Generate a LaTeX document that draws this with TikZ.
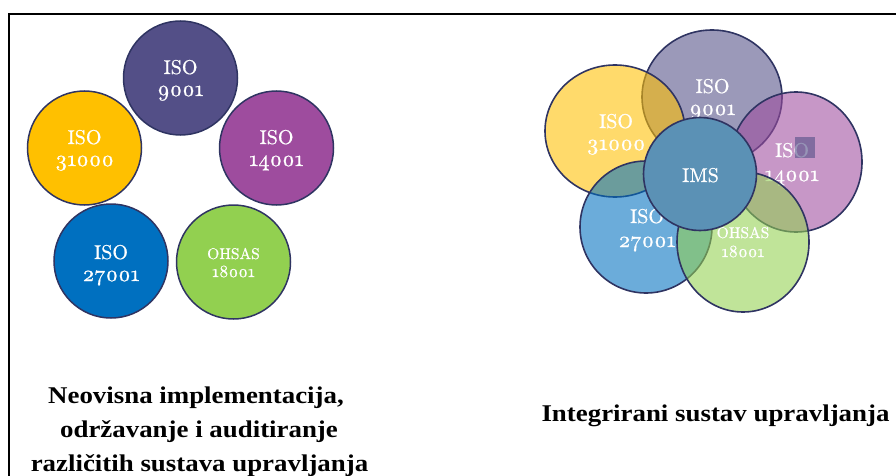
\documentclass[tikz,border=0pt]{standalone}
\usepackage{fontspec}
\usetikzlibrary{shapes.geometric}
\newfontfamily\capfont{Liberation Serif}[FakeStretch=1.12]
\newfontfamily\lblfont{lmroman10-regular.otf}[FakeBold=0.7, Numbers=OldStyle]
\definecolor{cA}{HTML}{534F87}
\definecolor{cB}{HTML}{FFC000}
\definecolor{cC}{HTML}{9E4C9E}
\definecolor{cD}{HTML}{0070C0}
\definecolor{cE}{HTML}{92D050}
\definecolor{cIMS}{HTML}{5B91B5}
\definecolor{rim}{HTML}{2F3462}
\tikzset{
  circ/.style={circle, draw=rim, line width=1.5pt, inner sep=0pt, minimum size=114pt},
  ell/.style={ellipse, draw=rim, line width=1.6pt, inner sep=0pt, fill opacity=0.58},
  lbl/.style={text=white, inner sep=0pt, anchor=base, font=\lblfont\fontsize{20}{24}\selectfont},
  num/.style={text=white, inner sep=0pt, anchor=base, font=\lblfont\fontsize{22}{24}\selectfont},
  slbl/.style={text=white, inner sep=0pt, anchor=base, font=\lblfont\fontsize{15.5}{18}\selectfont},
  snum/.style={text=white, inner sep=0pt, anchor=base, font=\lblfont\fontsize{17}{18}\selectfont},
  captext/.style={inner sep=0pt, anchor=base, font=\capfont\bfseries\fontsize{24}{30}\selectfont},
}
\begin{document}
\begin{tikzpicture}[x=1pt,y=-1pt]
\useasboundingbox (0,0) rectangle (896,476);
% frame
\draw[line width=1.6pt] (9,476) -- (9,14) -- (896,14);

% ---------- left: separate systems
\node[circ, fill=cA] (l9001) at (180.5,78) {};
\node[lbl] (l9001a) at (180.5,74) {ISO};
\node[num] (l9001b) at (180.5,96) {9001};

\node[circ, fill=cB] (l31000) at (84.5,148) {};
\node[lbl] (l31000a) at (84.5,144) {ISO};
\node[num] (l31000b) at (84.5,166) {31000};

\node[circ, fill=cC] (l14001) at (276.5,148) {};
\node[lbl] (l14001a) at (276.5,144) {ISO};
\node[num] (l14001b) at (276.5,166) {14001};

\node[circ, fill=cD] (l27001) at (111,261) {};
\node[lbl] (l27001a) at (111,259) {ISO};
\node[num] (l27001b) at (111,281) {27001};

\node[circ, fill=cE] (lohsas) at (233.5,262) {};
\node[slbl] (lohsasa) at (233.5,259) {OHSAS};
\node[snum] (lohsasb) at (233.5,277) {18001};

% ---------- right: integrated system
\node[ell, fill=cA, minimum width=140pt, minimum height=134pt] (r9001) at (712,97) {};
\node[lbl] (r9001a) at (712.5,93) {ISO};
\node[num] (r9001b) at (712.5,115) {9001};

\node[ell, fill=cB, minimum width=140pt, minimum height=132pt] (r31000) at (615,131) {};
\node[lbl] (r31000a) at (616,128) {ISO};
\node[num] (r31000b) at (616,150) {31000};

\node[ell, fill=cC, minimum width=132pt, minimum height=140pt] (r14001) at (796,162) {};
\node[lbl] (r14001a) at (792,157) {ISO};
\node[num] (r14001b) at (792,181) {14001};

\node[ell, fill=cD, minimum width=132pt, minimum height=132pt] (r27001) at (646,227) {};
\node[lbl] (r27001a) at (647,223) {ISO};
\node[num] (r27001b) at (647,247) {27001};

\node[ell, fill=cE, minimum width=132pt, minimum height=140pt] (rohsas) at (743,242) {};
\node[slbl] (rohsasa) at (743,238) {OHSAS};
\node[snum] (rohsasb) at (743,257) {18001};

\node[circ, fill=cIMS, minimum size=113pt, line width=1.6pt] (ims) at (700,174) {};
\node[lbl] (imsl) at (700.5,182) {IMS};

% selection highlight on the right ISO 14001 label
\fill[cA, fill opacity=0.6] (795,137) rectangle (815,158);

% ---------- captions
\node[captext] (capL1) at (196,403) {Neovisna implementacija,};
\node[captext] (capL2) at (199,437) {održavanje i auditiranje};
\node[captext] (capL3) at (199.5,471) {različitih sustava upravljanja};
\node[captext] (capR) at (715.5,421) {Integrirani sustav upravljanja};
\end{tikzpicture}
\end{document}
